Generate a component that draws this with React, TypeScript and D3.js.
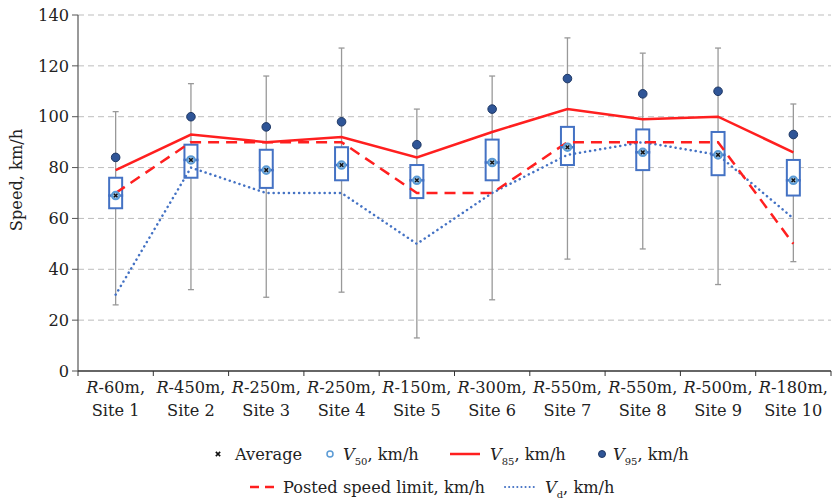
import React from "react";
import * as d3 from "d3";

const radii = ["60m", "450m", "250m", "250m", "150m", "300m", "550m", "550m", "500m", "180m"];
const sites = ["Site 1", "Site 2", "Site 3", "Site 4", "Site 5", "Site 6", "Site 7", "Site 8", "Site 9", "Site 10"];
const whiskerMin = [26, 32, 29, 31, 13, 28, 44, 48, 34, 43];
const whiskerMax = [102, 113, 116, 127, 103, 116, 131, 125, 127, 105];
const q1 = [64, 76, 72, 75, 68, 75, 81, 79, 77, 69];
const q3 = [76, 89, 87, 88, 81, 91, 96, 95, 94, 83];
const v50 = [69, 83, 79, 81, 75, 82, 88, 86, 85, 75];
const average = [69, 83, 79, 81, 75, 82, 88, 86, 85, 75];
const v85 = [79, 93, 90, 92, 84, 94, 103, 99, 100, 86];
const v95 = [84, 100, 96, 98, 89, 103, 115, 109, 110, 93];
const posted = [70, 90, 90, 90, 70, 70, 90, 90, 90, 50];
const vd = [30, 80, 70, 70, 50, 70, 85, 90, 85, 60];
const yTicks = [0, 20, 40, 60, 80, 100, 120, 140];

const W = 832;
const H = 500;
const FONT = "DejaVu Serif, serif";
const FS = 16.2;
const BLUE = "#4472C4";
const RED = "#FF1F1F";

export default function App() {
  const left = 78;
  const right = 831;
  const top = 15;
  const bottom = 371;
  const x = d3.scaleBand<number>().domain(d3.range(10)).range([left, right]);
  const y = d3.scaleLinear().domain([0, 140]).range([bottom, top]);
  const cx = (i: number) => (x(i) as number) + x.bandwidth() / 2;
  const line = (vals: number[]) =>
    d3.line<number>().x((_, i) => cx(i)).y((d) => y(d))(vals) as string;
  const bw = 13;

  // italic V with a subscript, then ", km/h"
  const sub = (s: string) => (
    <>
      <tspan fontStyle="italic">V</tspan>
      <tspan fontSize={10} dy={5}>{s}</tspan>
      <tspan dy={-5}>, km/h</tspan>
    </>
  );

  return (
    <svg width={W} height={H} style={{ position: "absolute", left: 0, top: 0 }} fontFamily={FONT}>
      {yTicks.map((t) => (
        <g key={t}>
          {t > 0 && (
            <line x1={left} x2={right} y1={y(t)} y2={y(t)} stroke="#bdbdbd" strokeWidth={1} strokeDasharray="6,4" />
          )}
          <line x1={left - 6} x2={left} y1={y(t)} y2={y(t)} stroke="#555" />
          <text x={left - 9} y={y(t)} dy="0.35em" textAnchor="end" fontSize={FS} fill="#222">
            {t}
          </text>
        </g>
      ))}
      <line x1={left} x2={left} y1={top} y2={bottom} stroke="#555" strokeWidth={1.2} />
      <line x1={left} x2={right} y1={bottom} y2={bottom} stroke="#333" strokeWidth={1.5} />
      {d3.range(11).map((i) => {
        const xx = left + i * x.step();
        return <line key={i} x1={xx} x2={xx} y1={bottom} y2={bottom + 5} stroke="#333" />;
      })}
      <text transform="translate(22,180) rotate(-90)" textAnchor="middle" fontSize={FS} fill="#222">
        Speed, km/h
      </text>

      {radii.map((r, i) => (
        <g key={i} fontSize={FS} fill="#222" textAnchor="middle">
          <text x={cx(i)} y={393}>
            <tspan fontStyle="italic">R</tspan>-{r},
          </text>
          <text x={cx(i)} y={416}>
            {sites[i]}
          </text>
        </g>
      ))}

      {/* whiskers and boxes */}
      {radii.map((_, i) => (
        <g key={i}>
          <line x1={cx(i)} x2={cx(i)} y1={y(whiskerMax[i])} y2={y(whiskerMin[i])} stroke="#999" strokeWidth={1.3} />
          <line x1={cx(i) - 3} x2={cx(i) + 3} y1={y(whiskerMax[i])} y2={y(whiskerMax[i])} stroke="#999" strokeWidth={1.3} />
          <line x1={cx(i) - 3} x2={cx(i) + 3} y1={y(whiskerMin[i])} y2={y(whiskerMin[i])} stroke="#999" strokeWidth={1.3} />
          <rect x={cx(i) - bw / 2} y={y(q3[i])} width={bw} height={y(q1[i]) - y(q3[i])} fill="white" stroke={BLUE} strokeWidth={2} />
        </g>
      ))}

      <path d={line(vd)} fill="none" stroke={BLUE} strokeWidth={2.5} strokeDasharray="0.1,5" strokeLinecap="round" />
      <path d={line(posted)} fill="none" stroke={RED} strokeWidth={2.5} strokeDasharray="11,7" />
      <path d={line(v85)} fill="none" stroke={RED} strokeWidth={2.5} />

      {radii.map((_, i) => (
        <g key={i}>
          <line x1={cx(i) - bw / 2 - 1} x2={cx(i) + bw / 2 + 1} y1={y(v50[i])} y2={y(v50[i])} stroke={BLUE} strokeWidth={2.5} />
          <circle cx={cx(i)} cy={y(v50[i])} r={3.8} fill="#9dc3e6" stroke="#5B9BD5" strokeWidth={2} />
          <path
            d={d3.symbol(d3.symbolX, 10)() as string}
            transform={`translate(${cx(i)},${y(average[i])})`}
            stroke="#111"
            strokeWidth={1.5}
          />
          <circle cx={cx(i)} cy={y(v95[i])} r={4.3} fill="#2F5597" stroke="#1F3864" strokeWidth={1} />
        </g>
      ))}

      {/* legend */}
      <g fontSize={FS} fill="#222">
        <path d={d3.symbol(d3.symbolX, 14)() as string} transform="translate(218,454)" stroke="#111" strokeWidth={1.6} />
        <text x={235} y={454} dy="0.35em">Average</text>
        <circle cx={330} cy={454} r={3} fill="white" stroke="#5B9BD5" strokeWidth={1.5} />
        <text x={343} y={454} dy="0.35em">{sub("50")}</text>
        <line x1={450} x2={480} y1={454} y2={454} stroke={RED} strokeWidth={2.5} />
        <text x={490} y={454} dy="0.35em">{sub("85")}</text>
        <circle cx={602} cy={454} r={3.5} fill="#2F5597" stroke="#1F3864" />
        <text x={613} y={454} dy="0.35em">{sub("95")}</text>
        <line x1={250} x2={279} y1={487} y2={487} stroke={RED} strokeWidth={2.5} strokeDasharray="9,6" />
        <text x={283} y={487} dy="0.35em">Posted speed limit, km/h</text>
        <line x1={505} x2={536} y1={487} y2={487} stroke={BLUE} strokeWidth={2} strokeDasharray="0.1,4" strokeLinecap="round" />
        <text x={545} y={487} dy="0.35em">{sub("d")}</text>
      </g>
    </svg>
  );
}
